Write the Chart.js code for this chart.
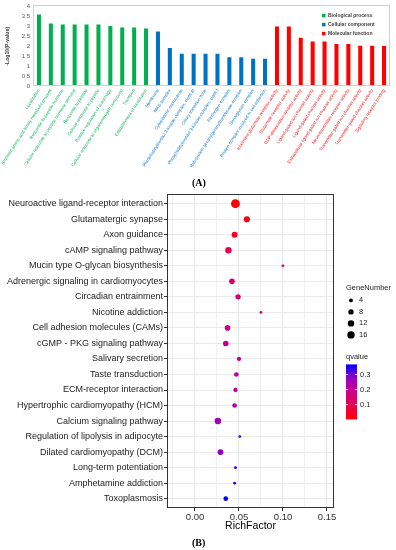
<!DOCTYPE html>
<html>
<head>
<meta charset="utf-8">
<script src="https://cdn.jsdelivr.net/npm/chart.js@4.4.1/dist/chart.umd.min.js"></script>
<style>
  body { margin: 0; background: #fff; }
  #wrap { position: relative; width: 396px; height: 550px; }
  canvas { position: absolute; left: 0; }
  .tag { position: absolute; font: bold 10px 'Liberation Serif', 'Times New Roman', serif; color: #000; }
</style>
</head>
<body>
<div id="wrap">
  <canvas id="goChart" width="396" height="188" style="top:0"></canvas>
  <div class="tag" style="left:192px;top:177px">(A)</div>
  <canvas id="keggChart" width="396" height="362" style="top:188px"></canvas>
  <div class="tag" style="left:192px;top:537px">(B)</div>
</div>
<script>
// ---- panel A: GO enrichment ----
const bpTerms = ['Localization', 'Aromatic amino acid family metabolic process', 'Response to peptide hormone',
  'Cellular response to peptide hormone stimulus', 'Response to peptide', 'Cellular response to peptide',
  'Positive regulation of autophagy', 'Cellular response to organonitrogen compound', 'Transport',
  'Establishment of localization'];
const ccTerms = ['Membrane', 'MKS complex', 'Cytoplasmic microtubule',
  'Phosphatidylinositol 3-kinase complex, class III', 'Ciliary transition zone',
  'Phosphatidylinositol 3-kinase complex, class I', 'Fibrinogen complex',
  'Rab-protein geranylgeranyltransferase complex', 'Sarcoglycan complex',
  'Protein complex involved in cell adhesion'];
const mfTerms = ['Ionotropic glutamate receptor activity', 'Glutamate receptor activity',
  'GDP-dissociation inhibitor activity', 'Ligand-gated ion channel activity', 'Ligand-gated channel activity',
  'Extracellular ligand-gated ion channel activity', 'Neurotransmitter receptor activity',
  'Transmitter-gated ion channel activity', 'Transmitter-gated channel activity', 'Signaling receptor binding'];
const bpValues = [3.6, 3.15, 3.1, 3.1, 3.1, 3.1, 3.02, 2.95, 2.95, 2.9];
const ccValues = [2.75, 1.92, 1.63, 1.63, 1.63, 1.63, 1.45, 1.45, 1.37, 1.37];
const mfValues = [3.0, 3.0, 2.43, 2.24, 2.24, 2.11, 2.11, 2.03, 2.03, 2.02];
const logTicks = [0, 0.5, 1, 1.5, 2, 2.5, 3, 3.5, 4];
const logTickLabels = ['0', '0.5', '1', '1.5', '2', '2.5', '3', '3.5', '4'];
const groupNames = ['Biological process', 'Cellular component', 'Molecular function'];

// ---- panel B: KEGG dot plot ----
const pathways = ['Neuroactive ligand-receptor interaction', 'Glutamatergic synapse', 'Axon guidance',
  'cAMP signaling pathway', 'Mucin type O-glycan biosynthesis', 'Adrenergic signaling in cardiomyocytes',
  'Circadian entrainment', 'Nicotine addiction', 'Cell adhesion molecules (CAMs)', 'cGMP - PKG signaling pathway',
  'Salivary secretion', 'Taste transduction', 'ECM-receptor interaction', 'Hypertrophic cardiomyopathy (HCM)',
  'Calcium signaling pathway', 'Regulation of lipolysis in adipocyte', 'Dilated cardiomyopathy (DCM)',
  'Long-term potentiation', 'Amphetamine addiction', 'Toxoplasmosis'];
const richFactor = [0.046, 0.059, 0.045, 0.038, 0.100, 0.042, 0.049, 0.075, 0.037, 0.035,
  0.050, 0.047, 0.046, 0.045, 0.026, 0.051, 0.029, 0.046, 0.045, 0.035];
const geneNumber = [24, 11, 10, 12, 2, 9, 8, 2, 9, 9, 5, 6, 5, 6, 12, 2, 10, 2, 2, 6];
const qValue = [0.002, 0.02, 0.04, 0.09, 0.14, 0.13, 0.14, 0.17, 0.18, 0.19,
  0.2, 0.22, 0.22, 0.23, 0.26, 0.32, 0.28, 0.355, 0.36, 0.367];
const richTicks = [0, 0.05, 0.10, 0.15];
const richTickLabels = ['0.00', '0.05', '0.10', '0.15'];
const geneBreaks = [4, 8, 12, 16];
const qBreaks = [0.1, 0.2, 0.3];
const qBreakLabels = ['0.1', '0.2', '0.3'];

Chart.defaults.font.family = "'Liberation Sans', Arial, sans-serif";
Chart.defaults.animation = false;

const groupColors = ['#00B050', '#0070C0', '#FF0000'];
const goTerms = bpTerms.concat(ccTerms, mfTerms);
const goValues = bpValues.concat(ccValues, mfValues);
const goGroup = goTerms.map((t, i) => i < bpTerms.length ? 0 : (i < bpTerms.length + ccTerms.length ? 1 : 2));

// rectangle round the plot area
const frame = {
  id: 'frame',
  afterDraw(chart, args, opts) {
    const { ctx, chartArea: a } = chart;
    ctx.save();
    ctx.strokeStyle = opts.color;
    ctx.lineWidth = 1;
    ctx.strokeRect(Math.round(a.left) + 0.5, Math.round(a.top - opts.lift) + 0.5,
      Math.round(a.right - a.left) - 1, Math.round(a.bottom - a.top + opts.lift) - 1);
    ctx.restore();
  }
};

const goLegend = {
  id: 'goLegend',
  afterDraw(chart) {
    const { ctx, chartArea: a } = chart;
    ctx.save();
    ctx.font = "bold 5px 'Liberation Sans', Arial, sans-serif";
    ctx.textBaseline = 'middle';
    groupNames.forEach((name, i) => {
      const y = a.top + 9 + i * 9;
      ctx.fillStyle = groupColors[i];
      ctx.fillRect(a.right - 68, y - 1.75, 3.5, 3.5);
      ctx.fillStyle = '#404040';
      ctx.fillText(name, a.right - 62, y);
    });
    ctx.restore();
  }
};

new Chart(document.getElementById('goChart'), {
  type: 'bar',
  data: {
    labels: goTerms,
    datasets: [{
      data: goValues,
      backgroundColor: goGroup.map(g => groupColors[g]),
      barPercentage: 0.34,
      categoryPercentage: 1
    }]
  },
  options: {
    responsive: false,
    layout: { padding: { top: 5, right: 6 } },
    plugins: {
      legend: { display: false },
      tooltip: { enabled: false },
      frame: { color: '#d0d0d0', lift: 2 }
    },
    scales: {
      x: {
        grid: { display: false, drawTicks: false },
        border: { display: false },
        ticks: {
          autoSkip: false,
          minRotation: 57,
          maxRotation: 57,
          padding: 2,
          font: { size: 4.4 },
          color: c => groupColors[goGroup[c.index]]
        },
        afterFit: axis => { axis.height = 102; }
      },
      y: {
        min: 0,
        max: 4,
        afterBuildTicks: axis => { axis.ticks = logTicks.map(v => ({ value: v })); },
        grid: { display: false, drawTicks: false },
        border: { display: false },
        ticks: {
          autoSkip: false,
          padding: 3,
          font: { size: 6 },
          color: '#595959',
          callback: v => logTickLabels[logTicks.indexOf(v)]
        },
        title: {
          display: true,
          text: '-Log10(P-value)',
          font: { size: 5.2, weight: 'bold' },
          color: '#404040',
          padding: { top: 4, bottom: 0 }
        },
        afterFit: axis => { axis.width = 33; }
      }
    }
  },
  plugins: [frame, goLegend]
});

// red -> blue colour scale, sampled through Lab like ggplot
const qStops = [[255, 0, 0], [232, 0, 79], [202, 0, 137], [154, 0, 195], [0, 0, 255]];
const qMin = Math.min(...qValue);
const qMax = Math.max(...qValue);
function qColor(q) {
  const t = (q - qMin) / (qMax - qMin) * (qStops.length - 1);
  const i = Math.min(Math.floor(t), qStops.length - 2);
  const f = t - i;
  const c = qStops[i].map((v, k) => Math.round(v + (qStops[i + 1][k] - v) * f));
  return 'rgb(' + c.join(',') + ')';
}
function geneSize(n) {
  return 0.2 + 0.87 * Math.sqrt(n);
}
const richGrid = richTicks.concat(richTicks.map(v => v - 0.025));

const keggLegend = {
  id: 'keggLegend',
  afterDraw(chart) {
    const { ctx, chartArea: a } = chart;
    const x0 = a.right + 12;
    const y0 = a.top + 94;
    ctx.save();
    ctx.font = "7.5px 'Liberation Sans', Arial, sans-serif";
    ctx.textBaseline = 'middle';
    ctx.fillStyle = '#222';
    ctx.fillText('GeneNumber', x0, y0);
    geneBreaks.forEach((n, i) => {
      const y = y0 + 12 + i * 11.5;
      ctx.fillStyle = '#000';
      ctx.beginPath();
      ctx.arc(x0 + 5, y, geneSize(n), 0, Math.PI * 2);
      ctx.fill();
      ctx.fillStyle = '#222';
      ctx.fillText(String(n), x0 + 13, y);
    });
    ctx.fillText('qvalue', x0, y0 + 69);
    const top = y0 + 76, h = 55, w = 11;
    const bottom = top + h;
    const grad = ctx.createLinearGradient(0, bottom, 0, top);
    qStops.forEach((c, i) => grad.addColorStop(i / (qStops.length - 1), 'rgb(' + c.join(',') + ')'));
    ctx.fillStyle = grad;
    ctx.fillRect(x0, top, w, h);
    qBreaks.forEach((q, i) => {
      const y = bottom - (q - qMin) / (qMax - qMin) * h;
      ctx.strokeStyle = '#fff';
      ctx.lineWidth = 0.8;
      ctx.beginPath();
      ctx.moveTo(x0, y); ctx.lineTo(x0 + 2.2, y);
      ctx.moveTo(x0 + w - 2.2, y); ctx.lineTo(x0 + w, y);
      ctx.stroke();
      ctx.fillStyle = '#222';
      ctx.fillText(qBreakLabels[i], x0 + 14, y);
    });
    ctx.restore();
  }
};

const isMajor = v => richTicks.some(t => Math.abs(t - v) < 1e-9);

new Chart(document.getElementById('keggChart'), {
  type: 'scatter',
  data: {
    datasets: [{
      data: pathways.map((p, i) => ({ x: richFactor[i], y: i })),
      pointRadius: c => geneSize(geneNumber[c.dataIndex]),
      pointHoverRadius: c => geneSize(geneNumber[c.dataIndex]),
      pointBackgroundColor: c => qColor(qValue[c.dataIndex]),
      pointBorderWidth: 0
    }]
  },
  options: {
    responsive: false,
    layout: { padding: { top: 5, right: 62, left: 0, bottom: 0 } },
    plugins: {
      legend: { display: false },
      tooltip: { enabled: false },
      frame: { color: '#333333', lift: 0 }
    },
    scales: {
      x: {
        type: 'linear',
        min: -0.0318,
        max: 0.158,
        afterBuildTicks: axis => { axis.ticks = richGrid.sort((p, q) => p - q).map(v => ({ value: v })); },
        grid: {
          color: c => isMajor(c.tick.value) ? '#e6e6e6' : '#f1f1f1',
          tickColor: c => isMajor(c.tick.value) ? '#333' : 'rgba(0,0,0,0)',
          tickLength: 3
        },
        border: { display: false },
        ticks: {
          padding: 1,
          autoSkip: false,
          maxRotation: 0,
          font: { size: 9.5 },
          color: '#333',
          callback: v => isMajor(v) ? richTickLabels[richTicks.findIndex(t => Math.abs(t - v) < 1e-9)] : ''
        },
        title: {
          display: true,
          text: 'RichFactor',
          font: { size: 10.5 },
          color: '#000',
          padding: { top: 0, bottom: 17.7 }
        },
        afterFit: axis => { axis.height = 42; }
      },
      y: {
        type: 'linear',
        reverse: true,
        min: -0.6,
        max: 19.6,
        afterBuildTicks: axis => { axis.ticks = pathways.map((p, i) => ({ value: i })); },
        grid: { color: '#ebebeb', tickColor: '#333', tickLength: 3 },
        border: { display: false },
        ticks: {
          autoSkip: false,
          padding: 1,
          font: { size: 9 },
          color: '#222',
          callback: v => pathways[v]
        },
        afterFit: axis => { axis.width = 167; }
      }
    }
  },
  plugins: [frame, keggLegend]
});
</script>
</body>
</html>
